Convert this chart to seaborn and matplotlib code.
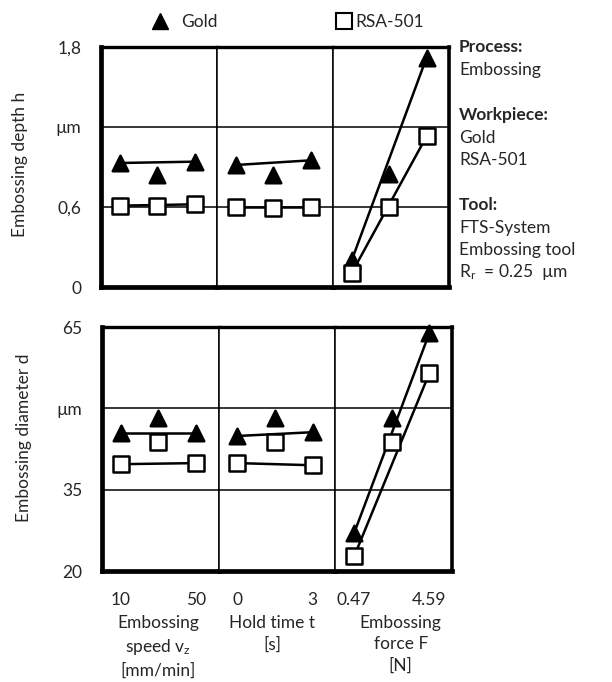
import pandas as pd
import seaborn as sns
import matplotlib.pyplot as plt
from matplotlib.lines import Line2D

sns.set_style("white")
plt.rcParams['font.family'] = ['Lato', 'DejaVu Sans']
plt.rcParams['mathtext.fontset'] = 'custom'
plt.rcParams['mathtext.rm'] = 'Lato'
plt.rcParams['font.size'] = 12.5

# parameter columns and their (end) tick labels
panels = ['speed', 'hold', 'force']
levels = [0, 1, 2]
tick_labels = [['10', '', '50'], ['0', '', '3'], ['0.47', '', '4.59']]
col_labels = ['Embossing\nspeed v$\\mathregular{_z}$\n[mm/min]',
              'Hold time t\n[s]',
              'Embossing\nforce F\n[N]']

# embossing depth h in um, per panel (low, mid, high level)
depth_gold = [[0.93, 0.84, 0.94], [0.915, 0.84, 0.95], [0.20, 0.85, 1.72]]
depth_rsa = [[0.61, 0.605, 0.62], [0.60, 0.595, 0.60], [0.105, 0.60, 1.13]]

# embossing diameter d in um
diam_gold = [[45.4, 48.2, 45.4], [44.9, 48.2, 45.6], [27.0, 48.2, 63.9]]
diam_rsa = [[39.7, 43.8, 39.9], [39.9, 43.8, 39.5], [22.7, 43.8, 56.5]]

rows = []
for qty, gold, rsa in [('depth', depth_gold, depth_rsa), ('diam', diam_gold, diam_rsa)]:
    for p, panel in enumerate(panels):
        for i in levels:
            rows.append([qty, panel, i, 'Gold', gold[p][i]])
            rows.append([qty, panel, i, 'RSA-501', rsa[p][i]])
df = pd.DataFrame(rows, columns=['qty', 'panel', 'level', 'material', 'value'])

fig = plt.figure(figsize=(6.12, 6.82), dpi=100)
W, H = 612, 682

row_setup = {
    'depth': dict(box=(101, 47, 449, 287), ylim=(0, 1.8), yticks=[0, 0.6, 1.2, 1.8],
                  ylabels=['0', '0,6', 'µm', '1,8'], ylabel='Embossing depth h',
                  ylab_xy=(28, 0.51)),
    'diam': dict(box=(102, 327, 452, 571), ylim=(20, 65), yticks=[20, 35, 50, 65],
                 ylabels=['20', '35', 'µm', '65'], ylabel='Embossing diameter d',
                 ylab_xy=(32, 0.545)),
}
xlab_shift = [-2, -5, 7]  # px shift of the column captions

for r, qty in enumerate(['depth', 'diam']):
    st = row_setup[qty]
    x0, y0, x1, y1 = st['box']
    cw = (x1 - x0) / 3
    for c, panel in enumerate(panels):
        ax = fig.add_axes([(x0 + c * cw) / W, 1 - y1 / H, cw / W, (y1 - y0) / H])
        sub = df[(df.qty == qty) & (df.panel == panel)]
        ends = sub[sub.level != 1]
        sns.lineplot(data=ends, x='level', y='value', hue='material',
                     palette={'Gold': 'black', 'RSA-501': 'black'},
                     estimator=None, linewidth=1.8, legend=False, ax=ax, zorder=2)
        for mat, mk, fc in [('Gold', '^', 'black'), ('RSA-501', 's', 'white')]:
            sns.scatterplot(data=sub[sub.material == mat], x='level', y='value',
                            marker=mk, s=125, color=fc, edgecolor='black',
                            linewidth=1.8, legend=False, ax=ax, zorder=3, clip_on=False)
        ax.set_xlim(-0.5, 2.6)
        ax.set_ylim(*st['ylim'])
        ax.set_yticks(st['yticks'])
        for y in st['yticks'][1:-1]:
            ax.axhline(y, color='black', linewidth=1.1, zorder=1)
        ax.spines['top'].set_linewidth(2.4)
        ax.spines['bottom'].set_linewidth(3.4)
        ax.spines['left'].set_linewidth(3.4 if c == 0 else 1.1)
        ax.spines['right'].set_linewidth(2.6 if c == 2 else 1.1)
        for s in ax.spines.values():
            s.set_color('black')
        ax.tick_params(length=0)
        ax.set_xlabel('')
        ax.set_ylabel('')
        if c == 0:
            ax.set_yticklabels(st['ylabels'])
            ax.tick_params(axis='y', pad=14)
            ax.set_ylabel(st['ylabel'])
            lx, ly = st['ylab_xy']
            ax.yaxis.set_label_coords((lx - x0) / cw, ly)
        else:
            ax.set_yticklabels([])
        if r == 1:
            ax.set_xticks(levels)
            ax.set_xticklabels(tick_labels[c])
            ax.tick_params(axis='x', pad=15)
            ax.set_xlabel(col_labels[c], labelpad=5, linespacing=1.42)
            ax.xaxis.label.set_x(0.5 + xlab_shift[c] / cw)
        else:
            ax.set_xticks([])

gold_h = Line2D([], [], marker='^', color='black', linestyle='none', markersize=11,
                markerfacecolor='black', label='Gold')
rsa_h = Line2D([], [], marker='s', color='black', linestyle='none', markersize=11,
               markerfacecolor='white', markeredgewidth=1.5, label='RSA-501')
fig.legend(handles=[gold_h], frameon=False, loc='center left', borderpad=0,
           borderaxespad=0, bbox_to_anchor=(151 / W, 1 - 22 / H),
           handletextpad=0.75, handlelength=1.0)
fig.legend(handles=[rsa_h], frameon=False, loc='center left', borderpad=0,
           borderaxespad=0, bbox_to_anchor=(335 / W, 1 - 22 / H),
           handletextpad=0.15, handlelength=1.0)

info = [('Process:', True, 47), ('Embossing', False, 70),
        ('Workpiece:', True, 115), ('Gold', False, 138), ('RSA-501', False, 160),
        ('Tool:', True, 205), ('FTS-System', False, 228), ('Embossing tool', False, 250),
        ('R$\\mathregular{_r}$  = 0.25  µm', False, 272)]
for txt, bold, y in info:
    fig.text(459 / W, 1 - y / H, txt, ha='left', va='center',
             fontweight='bold' if bold else 'normal')

fig.savefig('out.png', dpi=100)
